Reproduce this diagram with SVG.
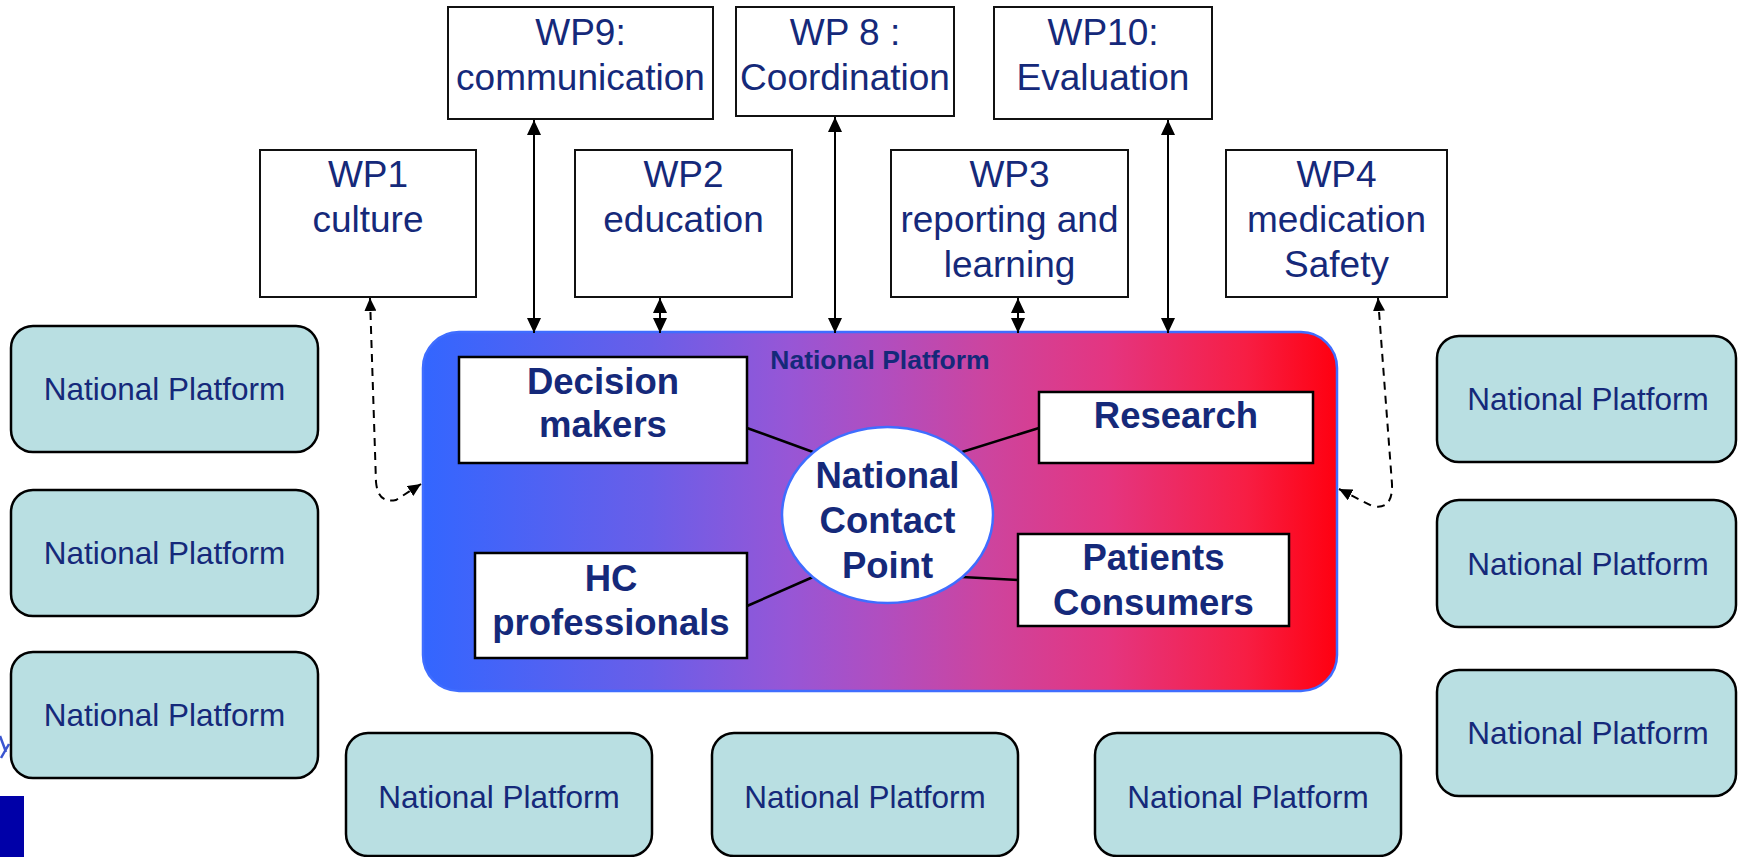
<svg xmlns="http://www.w3.org/2000/svg" width="1738" height="857" viewBox="0 0 1738 857">
  <defs>
    <linearGradient id="grad" x1="0" y1="0" x2="1" y2="0">
      <stop offset="0" stop-color="#3366ff"/>
      <stop offset="0.25" stop-color="#6a5ee8"/>
      <stop offset="0.4" stop-color="#9756d6"/>
      <stop offset="0.5" stop-color="#b04ec0"/>
      <stop offset="0.62" stop-color="#cd449e"/>
      <stop offset="0.75" stop-color="#e43580"/>
      <stop offset="0.9" stop-color="#f71e44"/>
      <stop offset="1" stop-color="#ff0010"/>
    </linearGradient>
    <marker id="ah" viewBox="0 0 15 14" refX="15" refY="7" markerWidth="15" markerHeight="14" markerUnits="userSpaceOnUse" orient="auto-start-reverse">
      <path d="M0,0 L15,7 L0,14 z" fill="#000"/>
    </marker>
    <marker id="ahs" viewBox="0 0 13 12" refX="13" refY="6" markerWidth="13" markerHeight="12" markerUnits="userSpaceOnUse" orient="auto-start-reverse">
      <path d="M0,0 L13,6 L0,12 z" fill="#000"/>
    </marker>
  </defs>
  <style>
    .wp rect { fill: #ffffff; stroke: #111; stroke-width: 2; }
    .wp text { font-family: "Liberation Sans", Arial, sans-serif; font-size: 37px; fill: #15297a; text-anchor: middle; }
    .np rect { fill: #b9dfe2; stroke: #000; stroke-width: 2.5; }
    .np text { font-family: "Liberation Sans", Arial, sans-serif; font-size: 31.5px; fill: #15297a; text-anchor: middle; }
    .in rect { fill: #ffffff; stroke: #000; stroke-width: 2.5; }
    .in text, .ncp text { font-family: "Liberation Sans", Arial, sans-serif; font-weight: bold; font-size: 36.5px; fill: #15297a; text-anchor: middle; }
    .title { font-family: "Liberation Sans", Arial, sans-serif; font-weight: bold; font-size: 26.5px; fill: #15297a; text-anchor: middle; }
    .arr { stroke: #000; stroke-width: 2; fill: none; marker-start: url(#ah); marker-end: url(#ah); }
    .dash { stroke: #000; stroke-width: 2; fill: none; stroke-dasharray: 8 6; marker-start: url(#ahs); marker-end: url(#ahs); }
    .link { stroke: #000; stroke-width: 2.5; fill: none; }
  </style>

  <!-- background fragments -->
  <rect x="0" y="796" width="24" height="61" fill="#0000a8"/>
  <path d="M0,736 L6,752 M1,758 L9,744" stroke="#3a55d0" stroke-width="2.5" fill="none"/>

  <!-- National Platform container -->
  <g id="platform">
    <rect x="423" y="332" width="914" height="359" rx="36" ry="36" fill="url(#grad)" stroke="#3f6dff" stroke-width="2.5"/>
    <text class="title" x="880" y="369">National Platform</text>
  </g>

  <!-- connectors -->
  <g id="connectors">
    <line class="arr" x1="534" y1="120" x2="534" y2="333"/>
    <line class="arr" x1="660" y1="298" x2="660" y2="333"/>
    <line class="arr" x1="835" y1="117" x2="835" y2="333"/>
    <line class="arr" x1="1018" y1="298" x2="1018" y2="333"/>
    <line class="arr" x1="1168" y1="120" x2="1168" y2="333"/>
    <path class="dash" d="M370,298 L376,482 Q378,504 396,500 L421,484"/>
    <path class="dash" d="M1378,298 L1392,484 Q1393,511 1372,506 L1339,489"/>
    <line class="link" x1="747" y1="428" x2="813" y2="452"/>
    <line class="link" x1="747" y1="606" x2="813" y2="577"/>
    <line class="link" x1="1039" y1="428" x2="962" y2="452"/>
    <line class="link" x1="962" y1="577" x2="1018" y2="580"/>
  </g>

  <!-- WP boxes -->
  <g id="wp9" class="wp">
    <rect x="448" y="7" width="265" height="112"/>
    <text x="580.5" y="45">WP9:</text>
    <text x="580.5" y="90">communication</text>
  </g>
  <g id="wp8" class="wp">
    <rect x="736" y="7" width="218" height="109"/>
    <text x="845" y="45">WP 8 :</text>
    <text x="845" y="90">Coordination</text>
  </g>
  <g id="wp10" class="wp">
    <rect x="994" y="7" width="218" height="112"/>
    <text x="1103" y="45">WP10:</text>
    <text x="1103" y="90">Evaluation</text>
  </g>
  <g id="wp1" class="wp">
    <rect x="260" y="150" width="216" height="147"/>
    <text x="368" y="187">WP1</text>
    <text x="368" y="232">culture</text>
  </g>
  <g id="wp2" class="wp">
    <rect x="575" y="150" width="217" height="147"/>
    <text x="683.5" y="187">WP2</text>
    <text x="683.5" y="232">education</text>
  </g>
  <g id="wp3" class="wp">
    <rect x="891" y="150" width="237" height="147"/>
    <text x="1009.5" y="187">WP3</text>
    <text x="1009.5" y="232">reporting and</text>
    <text x="1009.5" y="277">learning</text>
  </g>
  <g id="wp4" class="wp">
    <rect x="1226" y="150" width="221" height="147"/>
    <text x="1336.5" y="187">WP4</text>
    <text x="1336.5" y="232">medication</text>
    <text x="1336.5" y="277">Safety</text>
  </g>

  <!-- inner nodes -->
  <g id="decision" class="in">
    <rect x="459" y="357" width="288" height="106"/>
    <text x="603" y="394">Decision</text>
    <text x="603" y="437">makers</text>
  </g>
  <g id="hc" class="in">
    <rect x="475" y="553" width="272" height="105"/>
    <text x="611" y="591">HC</text>
    <text x="611" y="635">professionals</text>
  </g>
  <g id="research" class="in">
    <rect x="1039" y="392" width="274" height="71"/>
    <text x="1176" y="428">Research</text>
  </g>
  <g id="patients" class="in">
    <rect x="1018" y="534" width="271" height="92"/>
    <text x="1153.5" y="570">Patients</text>
    <text x="1153.5" y="615">Consumers</text>
  </g>
  <g id="ncp" class="ncp">
    <ellipse cx="887.5" cy="515" rx="105.5" ry="88" fill="#ffffff" stroke="#3f6dff" stroke-width="2.5"/>
    <text x="887.5" y="488">National</text>
    <text x="887.5" y="533">Contact</text>
    <text x="887.5" y="578">Point</text>
  </g>

  <!-- National Platform boxes -->
  <g id="np-l1" class="np">
    <rect x="11" y="326" width="307" height="126" rx="22"/>
    <text x="164.5" y="400">National Platform</text>
  </g>
  <g id="np-l2" class="np">
    <rect x="11" y="490" width="307" height="126" rx="22"/>
    <text x="164.5" y="564">National Platform</text>
  </g>
  <g id="np-l3" class="np">
    <rect x="11" y="652" width="307" height="126" rx="22"/>
    <text x="164.5" y="726">National Platform</text>
  </g>
  <g id="np-b1" class="np">
    <rect x="346" y="733" width="306" height="123" rx="22"/>
    <text x="499" y="808">National Platform</text>
  </g>
  <g id="np-b2" class="np">
    <rect x="712" y="733" width="306" height="123" rx="22"/>
    <text x="865" y="808">National Platform</text>
  </g>
  <g id="np-b3" class="np">
    <rect x="1095" y="733" width="306" height="123" rx="22"/>
    <text x="1248" y="808">National Platform</text>
  </g>
  <g id="np-r1" class="np">
    <rect x="1437" y="336" width="299" height="126" rx="22"/>
    <text x="1588" y="410">National Platform</text>
  </g>
  <g id="np-r2" class="np">
    <rect x="1437" y="500" width="299" height="127" rx="22"/>
    <text x="1588" y="575">National Platform</text>
  </g>
  <g id="np-r3" class="np">
    <rect x="1437" y="670" width="299" height="126" rx="22"/>
    <text x="1588" y="744">National Platform</text>
  </g>
</svg>
